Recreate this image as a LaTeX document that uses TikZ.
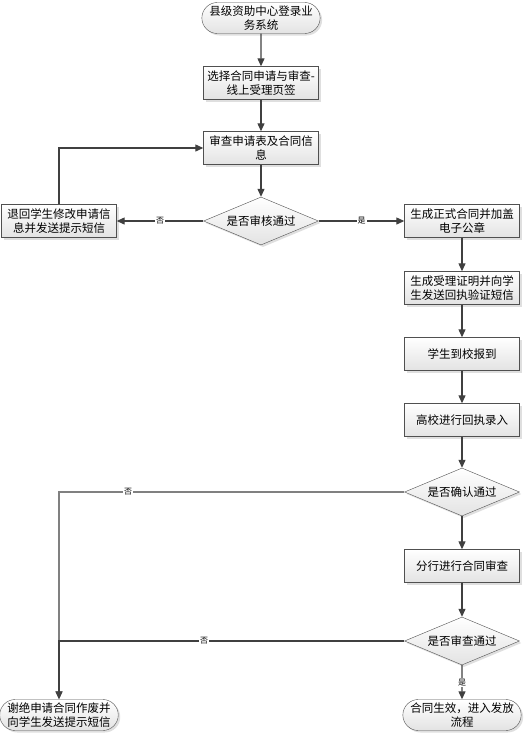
\documentclass[tikz,border=0pt]{standalone}
\usepackage{fontspec}
\setmainfont{Noto Sans CJK SC}
\usetikzlibrary{arrows.meta,shapes.geometric,shapes.misc,shadows}

\definecolor{linegray}{HTML}{404040}
\definecolor{bordergray}{HTML}{505050}
\tikzset{
    flowbox/.style={rectangle,draw=bordergray,top color=white,bottom color=gray!22,
        drop shadow={shadow xshift=2pt,shadow yshift=-2pt,opacity=0.25},
        minimum width=115pt,minimum height=33pt,inner sep=1pt,align=center,
        font=\fontsize{11.5}{14.5}\selectfont},
    terminal/.style={flowbox,rounded rectangle,minimum height=31pt},
    decision/.style={diamond,draw=bordergray,top color=white,bottom color=gray!22,
        drop shadow={shadow xshift=2pt,shadow yshift=-2pt,opacity=0.25},
        minimum width=115pt,minimum height=48pt,inner sep=0pt,aspect=2.4,
        font=\fontsize{11.5}{14.5}\selectfont},
    flow/.style={draw=linegray,line width=1.2pt,-{Triangle[length=8pt,width=7pt]}},
    tag/.style={fill=white,inner sep=1pt,font=\fontsize{8}{9}\selectfont}
}

\begin{document}
\begin{tikzpicture}[x=1pt,y=-1pt]
    \useasboundingbox (0,0) rectangle (525,736);

    % main column
    \node[terminal] (start) at (261,18) {县级资助中心登录业\\务系统};
    \node[flowbox] (select) at (261,83) {选择合同申请与审查-\\线上受理页签};
    \node[flowbox] (check) at (261,148) {审查申请表及合同信\\息};
    \node[decision] (pass1) at (261,221) {是否审核通过};
    \node[flowbox] (goback) at (59,221) {退回学生修改申请信\\息并发送提示短信};

    % right column
    \node[flowbox] (contract) at (462,221) {生成正式合同并加盖\\电子公章};
    \node[flowbox] (receipt) at (462,288) {生成受理证明并向学\\生发送回执验证短信};
    \node[flowbox] (arrive) at (462,354) {学生到校报到};
    \node[flowbox] (entry) at (462,420) {高校进行回执录入};
    \node[decision] (pass2) at (462,492) {是否确认通过};
    \node[flowbox] (bank) at (462,566) {分行进行合同审查};
    \node[decision] (pass3) at (462,641) {是否审查通过};
    \node[terminal] (done) at (462,715) {合同生效，进入发放\\流程};
    \node[terminal] (reject) at (59,715) {谢绝申请合同作废并\\向学生发送提示短信};

    \draw[flow] (start) -- (select);
    \draw[flow] (select) -- (check);
    \draw[flow] (check) -- (pass1);
    \draw[flow] (pass1) -- node[tag] {否} (goback);
    \draw[flow] (goback.north) |- (check.west);
    \draw[flow] (pass1) -- node[tag] {是} (contract);
    \draw[flow] (contract) -- (receipt);
    \draw[flow] (receipt) -- (arrive);
    \draw[flow] (arrive) -- (entry);
    \draw[flow] (entry) -- (pass2);
    \draw[flow,draw=gray] (pass2.west) -| node[tag,pos=0.4] {否} (reject.north);
    \draw[flow] (pass2) -- (bank);
    \draw[flow] (bank) -- (pass3);
    \draw[flow] (pass3.west) -| node[tag,pos=0.29] {否} (reject.north);
    \draw[flow] (pass3) -- node[tag] {是} (done);
\end{tikzpicture}
\end{document}
